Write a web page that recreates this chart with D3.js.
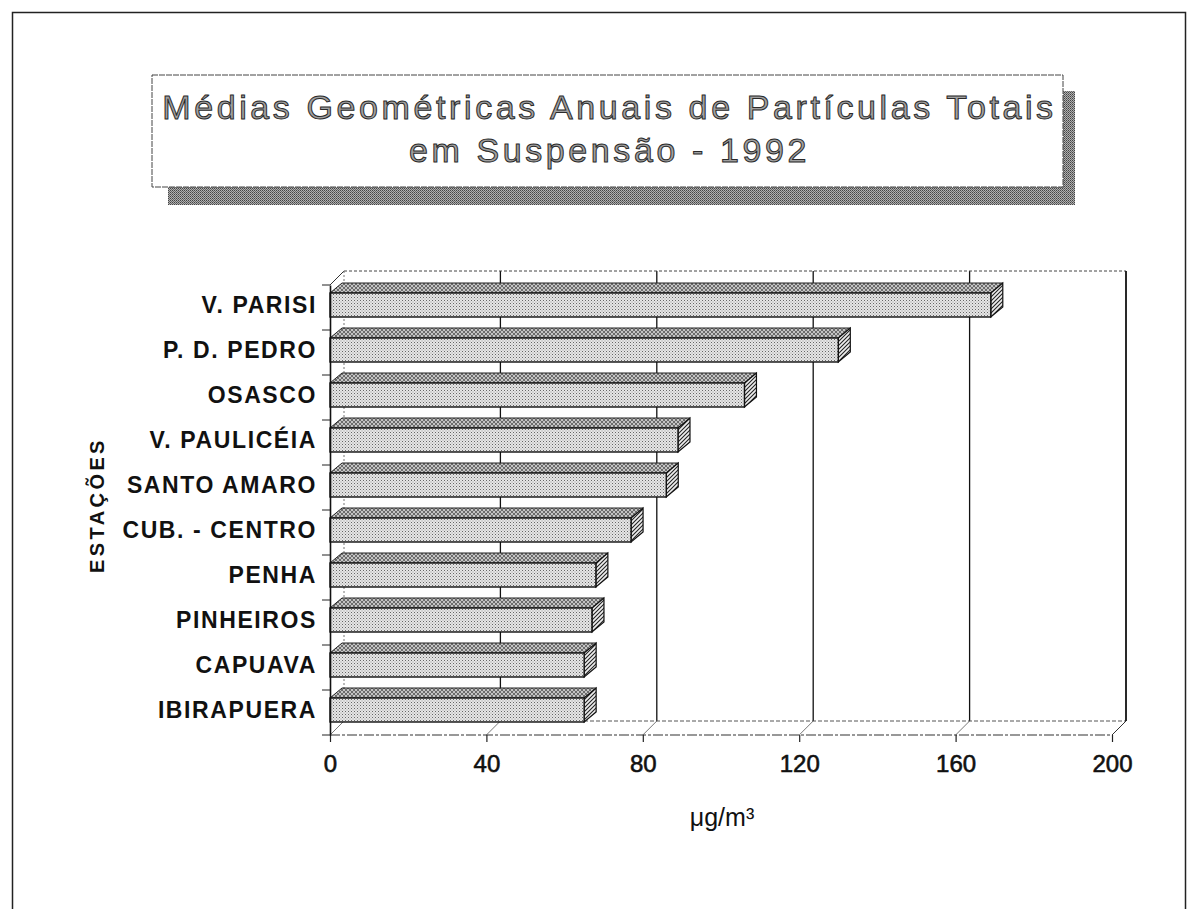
<!DOCTYPE html>
<html><head><meta charset="utf-8">
<script src="https://cdn.jsdelivr.net/npm/d3@7"></script>
<style>
body{margin:0;background:#fff;}
svg{display:block;}
</style></head>
<body>
<svg id="chart" width="1197" height="909"></svg>
<script>
const categories = ["V. PARISI","P. D. PEDRO","OSASCO","V. PAULICÉIA","SANTO AMARO","CUB. - CENTRO","PENHA","PINHEIROS","CAPUAVA","IBIRAPUERA"];
const values = [169,130,106,89,86,77,68,67,65,65];
const xTicks = [0,40,80,120,160,200];
const titleLines = ["Médias Geométricas Anuais de Partículas Totais","em Suspensão - 1992"];
const yAxisTitle = "ESTAÇÕES";
const xAxisTitle = "μg/m³";

const svg = d3.select("#chart");
const font = "'Liberation Sans', Arial, Helvetica, sans-serif";

// patterns
const defs = svg.append("defs");
const pDots = defs.append("pattern").attr("id","dots").attr("width",3).attr("height",3).attr("patternUnits","userSpaceOnUse");
pDots.append("rect").attr("width",3).attr("height",3).attr("fill","#e6e6e6");
pDots.append("rect").attr("x",0).attr("y",0).attr("width",1).attr("height",1).attr("fill","#666");
pDots.append("rect").attr("x",1.5).attr("y",1.5).attr("width",1).attr("height",1).attr("fill","#999");
const pCross = defs.append("pattern").attr("id","cross").attr("width",4).attr("height",4).attr("patternUnits","userSpaceOnUse");
pCross.append("rect").attr("width",4).attr("height",4).attr("fill","#c4c4c4");
pCross.append("path").attr("d","M0,4 L4,0 M0,0 L4,4").attr("stroke","#555").attr("stroke-width",0.8);
const pDiag = defs.append("pattern").attr("id","diag").attr("width",4).attr("height",4).attr("patternUnits","userSpaceOnUse");
pDiag.append("rect").attr("width",4).attr("height",4).attr("fill","#eee");
pDiag.append("path").attr("d","M-1,1 L1,-1 M0,4 L4,0 M3,5 L5,3").attr("stroke","#222").attr("stroke-width",1.1);
const pShadow = defs.append("pattern").attr("id","shadow").attr("width",2).attr("height",2).attr("patternUnits","userSpaceOnUse");
pShadow.append("rect").attr("width",2).attr("height",2).attr("fill","#b0b0b0");
pShadow.append("rect").attr("width",1).attr("height",1).attr("fill","#444");
pShadow.append("rect").attr("x",1).attr("y",1).attr("width",1).attr("height",1).attr("fill","#666");

// outer frame
svg.append("rect").attr("x",12.5).attr("y",12.5).attr("width",1173).attr("height",920)
  .attr("fill","none").attr("stroke","#222").attr("stroke-width",1.5);

// title box
const tb = {x:152, y:75, w:911, h:112};
svg.append("rect").attr("x",tb.x+16).attr("y",tb.y+16).attr("width",tb.w-4).attr("height",tb.h+2).attr("fill","url(#shadow)");
svg.append("rect").attr("x",tb.x).attr("y",tb.y).attr("width",tb.w).attr("height",tb.h)
  .attr("fill","#fff").attr("stroke","#444").attr("stroke-width",1).attr("stroke-dasharray","6,1");
svg.selectAll("text.title").data(titleLines).join("text").attr("class","title")
  .attr("x",tb.x+tb.w/2+2).attr("y",(d,i)=>119+i*43)
  .attr("text-anchor","middle").attr("font-family",font).attr("font-size",34)
  .attr("letter-spacing","3.6px")
  .attr("fill","#a0a0a0").attr("stroke","#2a2a2a").attr("stroke-width",1)
  .text(d=>d);

// scales
const x = d3.scaleLinear().domain([0,200]).range([330,1112]);
const y = d3.scaleBand().domain(categories).range([285,735]).padding(0);
const DX = 14, DY = -14;   // wall depth
const bx = 12, by = -10;   // bar depth
const faceOff = 8, faceH = 24;

const g = svg.append("g");
const x0 = x(0), x1 = x(200), yTop = y.range()[0], yBot = y.range()[1];

// back wall
g.append("rect").attr("x",x0+DX).attr("y",yTop+DY).attr("width",x1-x0).attr("height",yBot-yTop).attr("fill","#fff");
// back gridlines
g.selectAll("line.grid").data(xTicks.slice(1)).join("line").attr("class","grid")
  .attr("x1",d=>x(d)+DX).attr("x2",d=>x(d)+DX).attr("y1",yTop+DY).attr("y2",yBot+DY)
  .attr("stroke","#111").attr("stroke-width",1.3);
// floor diagonals
g.selectAll("line.fd").data(xTicks).join("line").attr("class","fd")
  .attr("x1",d=>x(d)).attr("y1",yBot).attr("x2",d=>x(d)+DX).attr("y2",yBot+DY)
  .attr("stroke","#555").attr("stroke-width",0.8);
// back wall top edge (dotted)
g.append("line").attr("x1",x0+DX).attr("x2",x1+DX).attr("y1",yTop+DY).attr("y2",yTop+DY)
  .attr("stroke","#444").attr("stroke-width",1).attr("stroke-dasharray","3,2");
// back floor edge
g.append("line").attr("x1",x0+DX).attr("x2",x1+DX).attr("y1",yBot+DY).attr("y2",yBot+DY)
  .attr("stroke","#555").attr("stroke-width",1).attr("stroke-dasharray","4,2");
// right back wall edge
g.append("line").attr("x1",x1+DX).attr("x2",x1+DX).attr("y1",yTop+DY).attr("y2",yBot+DY)
  .attr("stroke","#111").attr("stroke-width",1.4);
// left wall edges
g.append("line").attr("x1",x0).attr("y1",yTop).attr("x2",x0+DX).attr("y2",yTop+DY).attr("stroke","#333");
g.append("line").attr("x1",x0+DX).attr("y1",yTop+DY).attr("x2",x0+DX).attr("y2",yBot+DY).attr("stroke","#777").attr("stroke-dasharray","2,2");

// bars
const bars = g.selectAll("g.bar").data(categories.map((c,i)=>({c, v:values[i]}))).join("g").attr("class","bar");
bars.append("path") // top face
  .attr("d",d=>{const yt=y(d.c)+faceOff, xr=x(d.v);
    return `M${x0},${yt} L${x0+bx},${yt+by} L${xr+bx},${yt+by} L${xr},${yt} Z`;})
  .attr("fill","url(#cross)").attr("stroke","#222").attr("stroke-width",1);
bars.append("path") // end face
  .attr("d",d=>{const yt=y(d.c)+faceOff, xr=x(d.v);
    return `M${xr},${yt} L${xr+bx},${yt+by} L${xr+bx},${yt+by+faceH} L${xr},${yt+faceH} Z`;})
  .attr("fill","url(#diag)").attr("stroke","#111").attr("stroke-width",1.2);
bars.append("rect") // front face
  .attr("x",x0).attr("y",d=>y(d.c)+faceOff).attr("width",d=>x(d.v)-x0).attr("height",faceH)
  .attr("fill","url(#dots)").attr("stroke","#111").attr("stroke-width",1.4);

// floor front edge
g.append("line").attr("x1",x0).attr("x2",x1).attr("y1",yBot).attr("y2",yBot)
  .attr("stroke","#333").attr("stroke-width",1.2).attr("stroke-dasharray","10,2,3,2");
g.append("line").attr("x1",x1).attr("y1",yBot).attr("x2",x1+DX).attr("y2",yBot+DY).attr("stroke","#333");

// x axis
const xAxis = g.append("g").attr("transform",`translate(0,${yBot})`)
  .call(d3.axisBottom(x).tickValues(xTicks).tickSize(7).tickPadding(13).tickSizeOuter(0));
xAxis.select(".domain").remove();
xAxis.selectAll(".tick line").attr("stroke","#222").attr("stroke-width",1.2);
xAxis.selectAll(".tick text").attr("font-family",font).attr("font-size",24)
  .attr("fill","#111").attr("stroke","#111").attr("stroke-width",0.6);

// y axis
const yAxis = g.append("g").attr("transform",`translate(${x0},0)`)
  .call(d3.axisLeft(y).tickSize(0).tickPadding(13).tickSizeOuter(0));
yAxis.select(".domain").attr("stroke","#111").attr("stroke-width",1.6);
yAxis.selectAll(".tick text").attr("font-family",font).attr("font-size",23).attr("font-weight","bold")
  .attr("letter-spacing","1.6px").attr("fill","#111").attr("dy","0.25em");
// category boundary ticks
g.selectAll("line.ytick").data(categories.map(c=>y(c)).concat([yBot])).join("line").attr("class","ytick")
  .attr("x1",x0-8).attr("x2",x0).attr("y1",d=>d).attr("y2",d=>d).attr("stroke","#222");

// axis titles
svg.append("text").attr("transform","translate(104,505) rotate(-90)")
  .attr("text-anchor","middle").attr("font-family",font).attr("font-size",20).attr("font-weight","bold")
  .attr("letter-spacing","3.4px").attr("fill","#111").text(yAxisTitle);
svg.append("text").attr("x",722).attr("y",826).attr("text-anchor","middle")
  .attr("font-family",font).attr("font-size",25).attr("fill","#111").text(xAxisTitle);
</script>
</body></html>
